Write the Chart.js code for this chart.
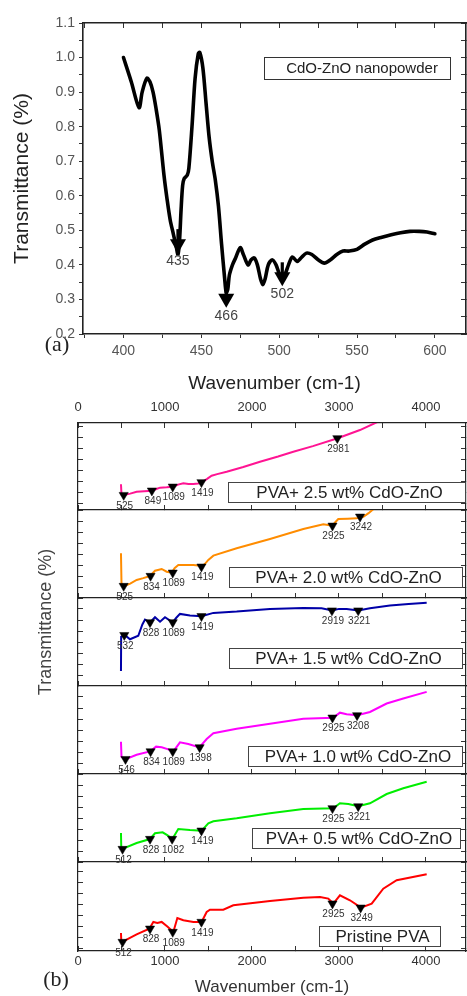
<!DOCTYPE html>
<html><head><meta charset="utf-8">
<script src="https://cdn.jsdelivr.net/npm/chart.js@4.4.1/dist/chart.umd.min.js"></script>
<style>
html,body{margin:0;padding:0;background:#fff;overflow:hidden;}
#wrap{position:relative;width:467px;height:996px;overflow:hidden;background:#fff;}
#wrap canvas{position:absolute;left:0;}
</style></head>
<body><div id="wrap">
<canvas id="ctop" width="467" height="395" style="top:0px"></canvas>
<canvas id="cp1" width="467" height="601" style="top:395px"></canvas>
<canvas id="cp2" width="467" height="601" style="top:395px"></canvas>
<canvas id="cp3" width="467" height="601" style="top:395px"></canvas>
<canvas id="cp4" width="467" height="601" style="top:395px"></canvas>
<canvas id="cp5" width="467" height="601" style="top:395px"></canvas>
<canvas id="cp6" width="467" height="601" style="top:395px"></canvas>
</div>
<script>
// ---------------- DATA ----------------
// (a) CdO-ZnO nanopowder
const topWavenumber = [400,405,410,412,415,417,419,421,423,426,428,430,432,434,435,436,437,438,439,441,442,444,446,448,449,451,453,455,457,459,461,463,465,466,467,468,470,472,475,477,480,482,484,486,488,489.5,491,493,495.5,498,500,502,504,506,508.5,511.5,514,517.5,521,525,529,533,537,541,545,550,555,560,566,572,578,584,590,595,600];
const topTransmittance = [1.00,0.93,0.855,0.90,0.94,0.93,0.90,0.85,0.79,0.66,0.59,0.53,0.49,0.45,0.43,0.47,0.56,0.63,0.65,0.66,0.68,0.80,0.94,1.01,1.015,0.97,0.87,0.77,0.70,0.645,0.57,0.46,0.36,0.32,0.33,0.37,0.40,0.42,0.45,0.43,0.40,0.415,0.42,0.40,0.36,0.343,0.36,0.40,0.415,0.40,0.375,0.36,0.375,0.40,0.423,0.41,0.42,0.434,0.43,0.415,0.405,0.415,0.43,0.44,0.44,0.445,0.46,0.472,0.48,0.487,0.493,0.497,0.497,0.495,0.49];
const topPeakWavenumber = [435, 466, 502];
const topPeakTip = [0.434, 0.276, 0.338];
const topLegendText = 'CdO-ZnO nanopowder';

// (b) panels, top to bottom
const panelLabels = ['PVA+ 2.5 wt% CdO-ZnO','PVA+ 2.0 wt% CdO-ZnO','PVA+ 1.5 wt% CdO-ZnO','PVA+ 1.0 wt% CdO-ZnO','PVA+ 0.5 wt% CdO-ZnO','Pristine PVA'];
const bottomXTicks = [0,500,1000,1500,2000,2500,3000,3500,4000];

const p1Wavenumber = [494,500,529,600,674,760,854,900,943,1020,1096,1150,1211,1270,1326,1380,1421,1480,1536,1600,1709,1900,2092,2300,2475,2700,2985,3241,3433,3520];
const p1Transmittance = [1.73,0.8,0.75,0.88,1.05,1.1,1.15,1.3,1.42,1.45,1.51,1.7,1.82,1.75,1.76,1.8,1.91,2.2,2.51,2.65,2.87,3.3,3.78,4.25,4.69,5.2,5.91,6.66,7.36,7.7];
const p1PeakWavenumber = [525,849,1089,1419,2981];
const p1PeakTransmittance = [0.75,1.15,1.51,1.91,5.91];

const p2Wavenumber = [494,500,532,600,674,750,828,885,962,1019,1077,1110,1153,1250,1326,1380,1421,1460,1498,1556,1824,2207,2590,2820,2923,2960,2992,3100,3203,3280,3340,3400];
const p2Transmittance = [3.85,1.1,0.88,1.1,1.43,1.6,1.79,2.27,2.43,2.18,2.09,2.5,2.79,2.8,2.79,2.75,2.64,2.9,3.25,3.64,4.31,5.15,6.06,6.49,6.36,6.7,6.97,7.0,7.03,7.18,7.5,7.9];
const p2PeakWavenumber = [525,834,1089,1419,2925,3242];
const p2PeakTransmittance = [0.88,1.79,2.09,2.64,6.36,7.18];

const p3Wavenumber = [494,496,540,598,693,740,770,828,885,943,1000,1088,1130,1172,1287,1421,1556,1824,2207,2590,2800,2923,3000,3088,3222,3356,3586,3800,4008];
const p3Transmittance = [0.4,3.5,3.64,3.27,3.58,4.6,5.04,4.79,5.25,4.85,5.25,4.79,5.2,5.55,5.4,5.34,5.64,5.76,6.0,6.09,6.05,5.85,6.0,6.0,5.85,6.06,6.31,6.45,6.55];
const p3PeakWavenumber = [532,828,1089,1419,2919,3221];
const p3PeakTransmittance = [3.64,4.79,4.79,5.34,5.85,5.85];

const p4Wavenumber = [494,500,548,674,828,897,962,1030,1096,1172,1268,1395,1479,1556,1824,2207,2590,2935,3011,3088,3211,3356,3548,3739,4008];
const p4Transmittance = [1.97,0.6,0.4,0.79,1.09,1.52,1.46,1.3,1.09,1.91,1.76,1.46,2.21,2.73,3.13,3.58,4.04,4.13,4.58,4.43,4.34,4.64,5.4,5.85,6.45];
const p4PeakWavenumber = [546,834,1089,1398,2925,3208];
const p4PeakTransmittance = [0.4,1.09,1.09,1.46,4.13,4.34];

const p5Wavenumber = [494,497,509,674,828,885,973,1030,1084,1153,1287,1421,1498,1556,1824,2207,2590,2935,3011,3107,3222,3356,3548,3739,4008];
const p5Transmittance = [2.52,1.3,1.06,1.61,1.97,2.49,2.58,2.3,1.97,2.88,2.79,2.73,3.4,3.58,3.85,4.31,4.7,4.76,5.22,5.15,4.94,5.22,6.06,6.58,7.18];
const p5PeakWavenumber = [512,828,1082,1419,2925,3221];
const p5PeakTransmittance = [1.06,1.97,1.97,2.73,4.76,4.94];

const p6Wavenumber = [494,497,509,674,820,866,912,962,1030,1096,1142,1211,1326,1421,1479,1517,1670,1785,2207,2590,2782,2877,2935,3011,3126,3253,3376,3509,3663,4008];
const p6Transmittance = [1.43,0.8,0.61,1.31,1.82,2.43,2.33,2.43,2.0,1.52,2.79,2.58,2.43,2.43,3.34,3.55,3.55,3.94,4.34,4.64,4.7,4.55,4.1,4.85,4.4,3.73,4.1,5.45,6.22,6.76];
const p6PeakWavenumber = [512,828,1089,1419,2925,3249];
const p6PeakTransmittance = [0.61,1.82,1.52,2.43,4.1,3.73];

// ---------------- STYLE / LAYOUT ----------------
const F = '"Liberation Sans", Arial, Helvetica, sans-serif';
const SERIF = '"Liberation Serif", "Times New Roman", serif';
const pts = (xs, ys) => xs.map((v, i) => ({x: v, y: ys[i]}));
const noPad = sc => { sc.paddingLeft = 0; sc.paddingRight = 0; sc.paddingTop = 0; sc.paddingBottom = 0; };

// ---------- (a) ----------
const topDecor = {
  id: 'topDecor',
  afterDatasetsDraw(chart) {
    const {ctx, chartArea: a, scales: {x, y}} = chart;
    ctx.save();
    for (let i = 0; i < topPeakWavenumber.length; i++) {
      const px = x.getPixelForValue(topPeakWavenumber[i]);
      const py = y.getPixelForValue(topPeakTip[i]);
      ctx.fillStyle = '#000';
      ctx.fillRect(px - 1.6, py - 24, 3.2, 12);
      ctx.beginPath();
      ctx.moveTo(px, py); ctx.lineTo(px - 8, py - 14); ctx.lineTo(px + 8, py - 14);
      ctx.closePath(); ctx.fill();
      ctx.fillStyle = '#444'; ctx.font = '14px ' + F;
      ctx.textAlign = 'center'; ctx.textBaseline = 'top';
      ctx.fillText(String(topPeakWavenumber[i]), px, py + 1);
    }
    const bx = a.left + 181, by = a.top + 34, bw = 186, bh = 22;
    ctx.fillStyle = '#fff'; ctx.fillRect(bx, by, bw, bh);
    ctx.strokeStyle = '#333'; ctx.lineWidth = 1;
    ctx.strokeRect(bx + 0.5, by + 0.5, bw, bh);
    ctx.fillStyle = '#222'; ctx.font = '15px ' + F;
    ctx.textAlign = 'center'; ctx.textBaseline = 'middle';
    ctx.fillText(topLegendText, bx + bw / 2 + 5, by + bh / 2 + 1);
    ctx.font = '22px ' + SERIF; ctx.fillStyle = '#222';
    ctx.fillText('(a)', a.left - 26, a.bottom + 11);
    ctx.restore();
  }
};

new Chart(document.getElementById('ctop'), {
  type: 'line',
  data: {datasets: [{
    data: pts(topWavenumber, topTransmittance),
    borderColor: '#000', borderWidth: 3.6, pointRadius: 0, tension: 0.3,
    borderJoinStyle: 'round', borderCapStyle: 'round'
  }]},
  options: {
    responsive: false, animation: false, devicePixelRatio: 1,
    layout: {padding: 0, autoPadding: false},
    plugins: {legend: {display: false}, tooltip: {enabled: false}},
    scales: {
      x: {
        type: 'linear', position: 'bottom', min: 374, max: 620,
        afterFit: s => { s.height = 61; noPad(s); },
        ticks: {stepSize: 25, includeBounds: false, autoSkip: false, maxRotation: 0, maxTicksLimit: 100,
          color: '#555', font: {size: 14, family: F}, padding: 5,
          callback: v => (Math.round(v) % 50 === 0 ? String(v) : '')},
        grid: {drawOnChartArea: false, tickLength: 4, color: '#333'},
        border: {color: '#222', width: 1.6},
        title: {display: true, text: 'Wavenumber (cm-1)', color: '#222',
          font: {size: 19, family: F, lineHeight: 1.2}, padding: {top: 0, bottom: 0}}
      },
      xTop: {
        type: 'linear', position: 'top', min: 374, max: 620,
        afterFit: s => { s.height = 23; noPad(s); },
        ticks: {display: false, stepSize: 25, includeBounds: false, maxTicksLimit: 100},
        grid: {drawOnChartArea: false, tickLength: -5, color: '#333'},
        border: {color: '#222', width: 1.6}
      },
      y: {
        type: 'linear', position: 'left', min: 0.2, max: 1.1,
        afterFit: s => { s.width = 83; },
        ticks: {stepSize: 0.05, includeBounds: false, autoSkip: false, maxTicksLimit: 100,
          color: '#555', font: {size: 14, family: F}, padding: 4,
          callback: v => (Math.round(v * 100) % 10 === 0 ? v.toFixed(1) : '')},
        grid: {drawOnChartArea: false, tickLength: 4, color: '#333'},
        border: {color: '#222', width: 1.6},
        title: {display: true, text: 'Transmittance (%)', color: '#222',
          font: {size: 21, family: F, lineHeight: 1.2}, padding: {top: 10, bottom: 0}}
      },
      yRight: {
        type: 'linear', position: 'right', min: 0.2, max: 1.1,
        afterFit: s => { s.width = 1; },
        ticks: {display: false, stepSize: 0.05, includeBounds: false, maxTicksLimit: 100},
        grid: {drawOnChartArea: false, tickLength: -5, color: '#333'},
        border: {color: '#222', width: 1.6}
      }
    }
  },
  plugins: [topDecor]
});

// ---------- (b) ----------
const panelSeries = [
  [p1Wavenumber, p1Transmittance, p1PeakWavenumber, p1PeakTransmittance],
  [p2Wavenumber, p2Transmittance, p2PeakWavenumber, p2PeakTransmittance],
  [p3Wavenumber, p3Transmittance, p3PeakWavenumber, p3PeakTransmittance],
  [p4Wavenumber, p4Transmittance, p4PeakWavenumber, p4PeakTransmittance],
  [p5Wavenumber, p5Transmittance, p5PeakWavenumber, p5PeakTransmittance],
  [p6Wavenumber, p6Transmittance, p6PeakWavenumber, p6PeakTransmittance]
];
const panelColors = ['#ff1493', '#ff8c00', '#0000a8', '#ff00ff', '#00ee00', '#ff0000'];
const panelBox = [
  {top: 423, bottom: 510, ymin: -0.61, ymax: 7.30, lx: 150, ly: 59, lw: 237},
  {top: 510, bottom: 598, ymin: -0.21, ymax: 7.79, lx: 151, ly: 57, lw: 233},
  {top: 598, bottom: 686, ymin: -0.94, ymax: 6.98, lx: 151, ly: 50, lw: 233},
  {top: 686, bottom: 774, ymin: -0.94, ymax: 6.98, lx: 170, ly: 60, lw: 214},
  {top: 774, bottom: 862, ymin: -0.12, ymax: 7.88, lx: 174, ly: 54, lw: 208},
  {top: 862, bottom: 951, ymin: -0.21, ymax: 7.88, lx: 241, ly: 64, lw: 121}
];
const CANVAS_TOP = 395, PAGE_H = 996;

const panelDecor = {
  id: 'panelDecor',
  afterDatasetsDraw(chart, args, opts) {
    const {ctx, chartArea: a} = chart;
    ctx.save();
    const meta = chart.getDatasetMeta(1);
    const vals = chart.data.datasets[1].data;
    ctx.fillStyle = '#333'; ctx.font = '10px ' + F;
    ctx.textAlign = 'center'; ctx.textBaseline = 'top';
    meta.data.forEach((el, i) => {
      ctx.fillText(String(vals[i].x), el.x + 1, el.y + 6);
    });
    const bx = a.left + opts.lx, by = a.top + opts.ly, bw = opts.lw, bh = 20;
    ctx.fillStyle = '#fff'; ctx.fillRect(bx, by, bw, bh);
    ctx.strokeStyle = '#444'; ctx.lineWidth = 1;
    ctx.strokeRect(bx + 0.5, by + 0.5, bw, bh);
    ctx.fillStyle = '#222'; ctx.font = '17px ' + F;
    ctx.textAlign = 'center'; ctx.textBaseline = 'middle';
    ctx.fillText(opts.text, bx + bw / 2 + 3, by + bh / 2 + 1);
    if (opts.last) {
      ctx.save();
      ctx.translate(46, 622 - CANVAS_TOP);
      ctx.rotate(-Math.PI / 2);
      ctx.fillStyle = '#444'; ctx.font = '18px ' + F;
      ctx.fillText('Transmittance (%)', 0, 0);
      ctx.restore();
      ctx.fillStyle = '#222'; ctx.font = '22px ' + SERIF;
      ctx.fillText('(b)', 56, 980 - CANVAS_TOP);
    }
    ctx.restore();
  }
};

const setXTicks = sc => { sc.ticks = bottomXTicks.map(v => ({value: v})); };

panelSeries.forEach((s, i) => {
  const L = panelBox[i];
  const first = i === 0, last = i === panelSeries.length - 1;
  const topH = first ? 28 : 0;
  const botH = last ? 45 : 0;
  const xTicks = {autoSkip: false, maxRotation: 0, color: '#333', font: {size: 13, family: F},
    callback: v => (v % 1000 === 0 ? String(v) : '')};
  new Chart(document.getElementById('cp' + (i + 1)), {
    type: 'line',
    data: {datasets: [
      {data: pts(s[0], s[1]), borderColor: panelColors[i], borderWidth: 2, pointRadius: 0, tension: 0, order: 2},
      {data: pts(s[2], s[3]), showLine: false, pointStyle: 'triangle', rotation: 180, pointRadius: 5.3,
        backgroundColor: '#000', borderColor: '#000', borderWidth: 0.5, order: 1}
    ]},
    options: {
      responsive: false, animation: false, devicePixelRatio: 1,
      layout: {autoPadding: false, padding: {left: 0, right: 0, top: L.top - CANVAS_TOP - topH, bottom: PAGE_H - L.bottom - botH}},
      plugins: {legend: {display: false}, tooltip: {enabled: false},
        panelDecor: {text: panelLabels[i], lx: L.lx, ly: L.ly, lw: L.lw, last: last}},
      scales: {
        x: {
          type: 'linear', position: 'bottom', min: 0, max: 4460,
          afterBuildTicks: setXTicks,
          afterFit: sc => { sc.height = botH; noPad(sc); },
          ticks: Object.assign({}, xTicks, {display: last, padding: 8}),
          grid: {drawOnChartArea: false, tickLength: -5, color: '#333'},
          border: {color: '#222', width: 1.2},
          title: {display: last, text: 'Wavenumber (cm-1)', color: '#333',
            font: {size: 17, family: F, lineHeight: 1}, padding: {top: 0, bottom: 0}}
        },
        xTop: {
          type: 'linear', position: 'top', min: 0, max: 4460, display: first,
          afterBuildTicks: setXTicks,
          afterFit: sc => { sc.height = topH; noPad(sc); },
          ticks: Object.assign({}, xTicks, {padding: 13}),
          grid: {drawOnChartArea: false, tickLength: -5, color: '#333'},
          border: {color: '#222', width: 1.2}
        },
        y: {
          type: 'linear', position: 'left', min: L.ymin, max: L.ymax,
          afterFit: sc => { sc.width = 78; noPad(sc); },
          ticks: {display: false, stepSize: 1, includeBounds: false},
          grid: {drawOnChartArea: false, tickLength: -5, color: '#333'},
          border: {color: '#222', width: 1.2}
        },
        yRight: {
          type: 'linear', position: 'right', min: L.ymin, max: L.ymax,
          afterFit: sc => { sc.width = 1; noPad(sc); },
          ticks: {display: false, stepSize: 1, includeBounds: false},
          grid: {drawOnChartArea: false, tickLength: -5, color: '#333'},
          border: {color: '#222', width: 1.2}
        }
      }
    },
    plugins: [panelDecor]
  });
});
</script>
</body></html>
